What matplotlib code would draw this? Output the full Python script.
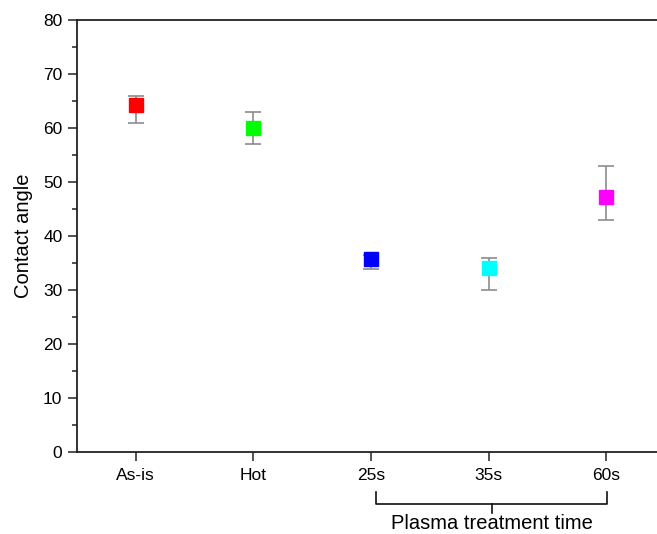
import numpy as np
import matplotlib

matplotlib.use("Agg")
import matplotlib.pyplot as plt
from matplotlib.ticker import MultipleLocator

# data
labels = ["As-is", "Hot", "25s", "35s", "60s"]
angle = [64.3, 60.0, 35.7, 34.0, 47.3]
err_low = [61.0, 57.0, 33.9, 30.0, 43.0]
err_high = [66.0, 63.0, 36.5, 36.0, 53.0]
colors = ["#ff0000", "#00ff00", "#0000ff", "#00ffff", "#ff00ff"]
plasma_group = ["25s", "35s", "60s"]
group_label = "Plasma treatment time"

plt.rcParams["font.family"] = ["Liberation Sans", "DejaVu Sans"]

fig = plt.figure(figsize=(6.57, 5.34), dpi=100)
ax = fig.add_axes([77 / 657, 82 / 534, 588 / 657, 432 / 534])

x = np.arange(1, len(labels) + 1)
angle = np.asarray(angle)
yerr = np.vstack([angle - np.asarray(err_low), np.asarray(err_high) - angle])

for xi, yi, lo, hi, c in zip(x, angle, yerr[0], yerr[1], colors):
    ax.errorbar(xi, yi, yerr=[[lo], [hi]], fmt="none", ecolor="#8c8c8c",
                elinewidth=1.2, capsize=6, capthick=1.2, zorder=2)
    ax.plot(xi, yi, marker="s", markersize=9.5, color=c, linestyle="none", zorder=3)

ax.set_xlim(0.5, len(labels) + 0.5)
ax.set_ylim(0, 80)
ax.set_xticks(x)
ax.set_xticklabels(labels, fontsize=12.5)
ax.yaxis.set_major_locator(MultipleLocator(10))
ax.yaxis.set_minor_locator(MultipleLocator(5))
ax.tick_params(axis="y", which="major", direction="out", length=6.5, width=1.1,
               labelsize=12.5, pad=4, color="#222222")
ax.tick_params(axis="y", which="minor", direction="out", length=3.6, width=1.1,
               color="#222222")
ax.tick_params(axis="x", which="major", direction="out", length=6.5, width=1.1,
               labelsize=12.5, pad=5, color="#222222")
ax.set_ylabel("Contact angle", fontsize=14.5, labelpad=7)

for side in ["left", "bottom", "top"]:
    ax.spines[side].set_linewidth(1.3)
    ax.spines[side].set_color("#222222")
ax.spines["right"].set_visible(False)

# bracket under the plasma samples
i0 = labels.index(plasma_group[0]) + 1
i1 = labels.index(plasma_group[-1]) + 1
xl, xr = i0 + 0.04, i1 + 0.01
xm = (xl + xr) / 2
trans = ax.get_xaxis_transform()
y_top, y_bar, y_tip = -0.093, -0.120, -0.141
ax.plot([xl, xl, xr, xr], [y_top, y_bar, y_bar, y_top], color="#111111", lw=1.2,
        transform=trans, clip_on=False)
ax.plot([xm, xm], [y_bar, y_tip], color="#111111", lw=1.2, transform=trans, clip_on=False)
ax.text(xm, -0.143, group_label, transform=trans, ha="center", va="top", fontsize=14.5)

fig.savefig("out.png", dpi=100)
plt.close(fig)
